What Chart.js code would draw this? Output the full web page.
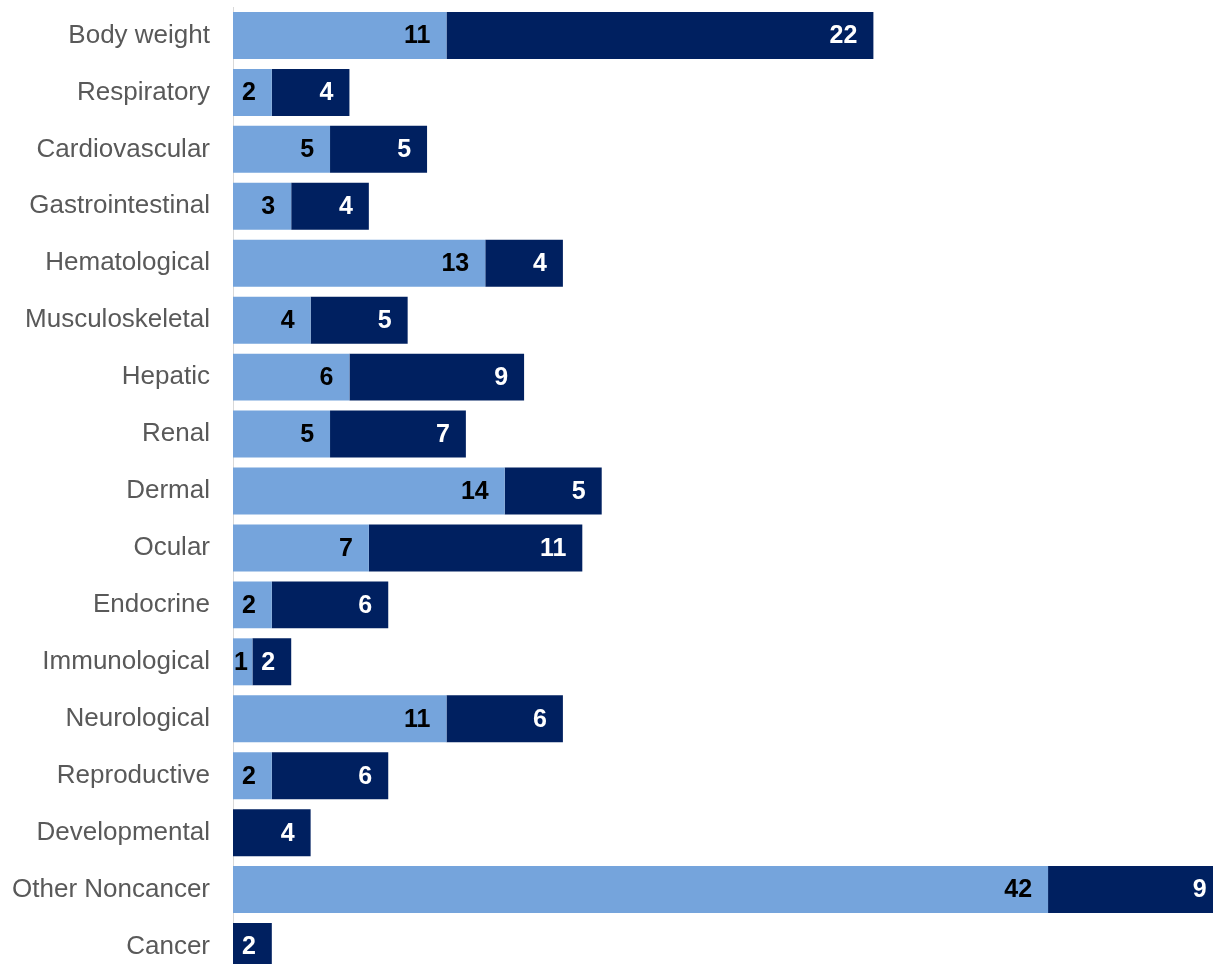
<!DOCTYPE html>
<html>
<head>
<meta charset="utf-8">
<script src="https://cdn.jsdelivr.net/npm/chart.js@4"></script>
<style>
  html, body { margin: 0; padding: 0; background: #fff; overflow: hidden; }
  canvas { display: block; }
</style>
</head>
<body>
<canvas id="effectsChart" width="1213" height="975"></canvas>
<script>
const categories = [
  "Body weight", "Respiratory", "Cardiovascular", "Gastrointestinal",
  "Hematological", "Musculoskeletal", "Hepatic", "Renal", "Dermal",
  "Ocular", "Endocrine", "Immunological", "Neurological", "Reproductive",
  "Developmental", "Other Noncancer", "Cancer"
];
const lightValues = [11, 2, 5, 3, 13, 4, 6, 5, 14, 7, 2, 1, 11, 2, 0, 42, 0];
const darkValues  = [22, 4, 5, 4, 4, 5, 9, 7, 5, 11, 6, 2, 6, 6, 4, 9, 2];

// draws the value near the end of each bar
const barLabels = {
  id: "barLabels",
  afterDatasetsDraw(chart) {
    const ctx = chart.ctx;
    ctx.save();
    ctx.font = "bold 25px 'Liberation Sans', Arial, sans-serif";
    ctx.textAlign = "right";
    ctx.textBaseline = "middle";
    chart.data.datasets.forEach((ds, i) => {
      const meta = chart.getDatasetMeta(i);
      meta.data.forEach((bar, j) => {
        const v = ds.data[j];
        if (!v) return;
        const txt = String(v);
        const w = ctx.measureText(txt).width;
        const x = Math.max(bar.x - 16, bar.base + w + 1);
        ctx.fillStyle = i === 0 ? "#000000" : "#ffffff";
        ctx.fillText(txt, x, bar.y + 1);
      });
    });
    ctx.restore();
  }
};

const ctx = document.getElementById("effectsChart").getContext("2d");
new Chart(ctx, {
  type: "bar",
  data: {
    labels: categories,
    datasets: [
      { label: "A", data: lightValues, backgroundColor: "#75a4dc" },
      { label: "B", data: darkValues, backgroundColor: "#002060" }
    ]
  },
  options: {
    indexAxis: "y",
    responsive: false,
    animation: false,
    devicePixelRatio: 1,
    layout: { padding: { top: 7, right: 0, bottom: 0, left: 0 } },
    datasets: {
      bar: { categoryPercentage: 1, barPercentage: 0.825 }
    },
    plugins: {
      legend: { display: false },
      tooltip: { enabled: false }
    },
    scales: {
      x: {
        stacked: true,
        display: false,
        min: 0,
        max: 50.5
      },
      y: {
        stacked: true,
        grid: { display: false, drawTicks: false },
        border: { display: true, color: "#d9d9d9", width: 1 },
        ticks: {
          padding: 23,
          color: "#595959",
          font: { family: "'Liberation Sans', Arial, sans-serif", size: 26 }
        },
        afterFit(scale) {
          scale.width = 233;
          scale.paddingTop = 0;
          scale.paddingBottom = 0;
        }
      }
    }
  },
  plugins: [barLabels]
});
</script>
</body>
</html>
